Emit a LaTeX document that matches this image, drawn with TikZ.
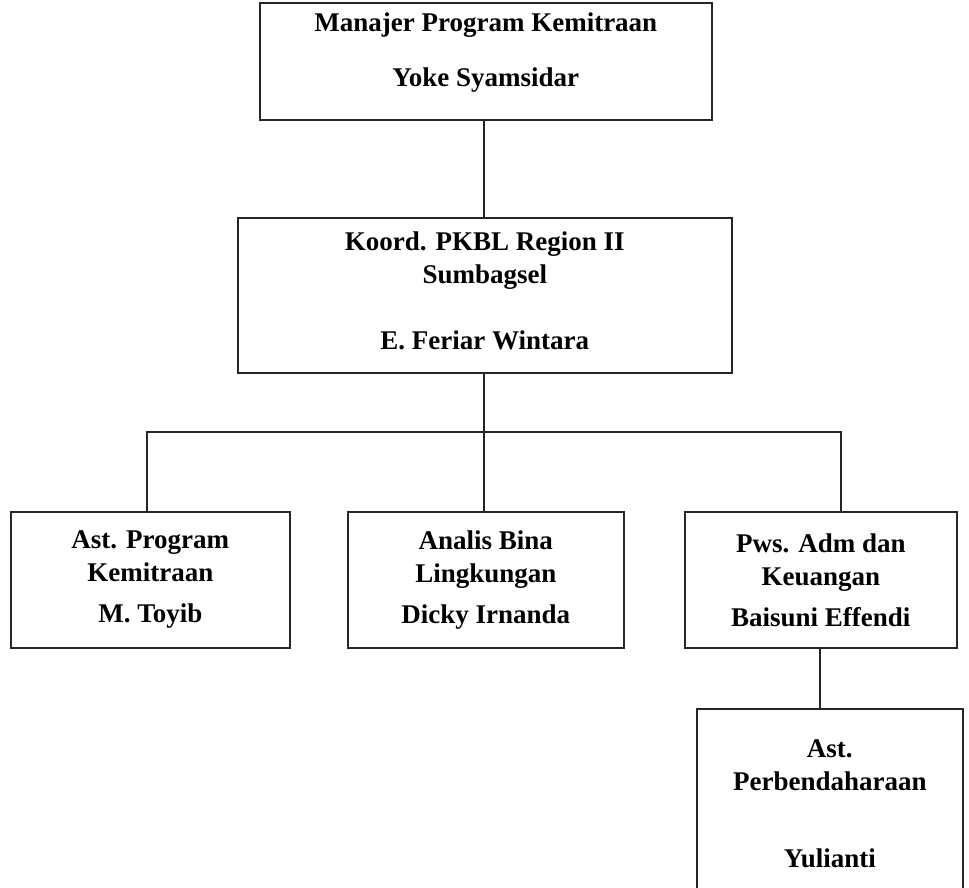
\documentclass[tikz,border=0pt]{standalone}
\usepackage{fontspec}
\setmainfont{Liberation Serif}
\begin{document}
\begin{tikzpicture}[x=1pt,y=-1pt,
  orgbox/.style={draw=black!85, line width=1.6pt, inner sep=0pt, anchor=north west},
  orgtext/.style={inner sep=0pt, align=center, font=\bfseries\fontsize{27}{33}\selectfont},
  link/.style={draw=black!85, line width=1.4pt}]
\useasboundingbox (0,0) rectangle (969,888);
\clip (0,0) rectangle (969,888);
% boxes
\node[orgbox, minimum width=452pt, minimum height=117pt] (b1) at (259,2) {};
\node[orgbox, minimum width=494pt, minimum height=155pt] (b2) at (237,217) {};
\node[orgbox, minimum width=279pt, minimum height=136pt] (b3) at (10,511) {};
\node[orgbox, minimum width=276pt, minimum height=136pt] (b4) at (347,511) {};
\node[orgbox, minimum width=272pt, minimum height=136pt] (b5) at (684,511) {};
\node[orgbox, minimum width=266pt, minimum height=184pt] (b6) at (696,708) {};
% texts
\node[orgtext] (t1) at ([yshift=9pt]b1.center) {Manajer Program Kemitraan\\[22pt]Yoke Syamsidar};
\node[orgtext] (t2) at ([yshift=4pt]b2.center) {Koord. PKBL Region II\\Sumbagsel\\[33pt]E. Feriar Wintara};
\node[orgtext] (t3) at (b3.center) {Ast. Program\\Kemitraan\\[8pt]M. Toyib};
\node[orgtext] (t4) at (b4.center) {Analis Bina\\Lingkungan\\[8pt]Dicky Irnanda};
\node[orgtext] (t5) at (b5.center) {Pws. Adm dan\\Keuangan\\[8pt]Baisuni Effendi};
\node[orgtext] (t6) at ([yshift=-3pt]b6.center) {Ast.\\Perbendaharaan\\[44pt]Yulianti};
% connectors
\coordinate (j) at (484,432);
\coordinate (l3) at (147,432);
\coordinate (r5) at (841,432);
\coordinate (d5) at (820,0);
\draw[link] (b1.south -| j) -- (b2.north -| j);
\draw[link] (b2.south -| j) -- (j);
\draw[link] (b3.north -| l3) -- (l3) -- (r5) -- (b5.north -| r5);
\draw[link] (j) -- (b4.north -| j);
\draw[link] (b5.south -| d5) -- (b6.north -| d5);
\end{tikzpicture}
\end{document}
